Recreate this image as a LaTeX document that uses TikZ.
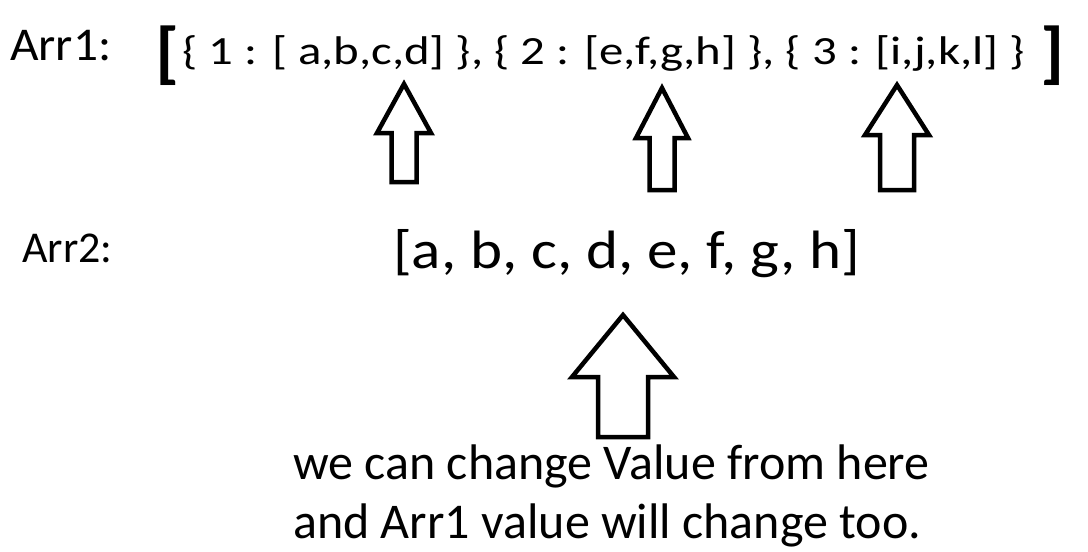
\documentclass[tikz,border=0pt]{standalone}
\usepackage{fontspec}
\setmainfont{Carlito}
\usepackage{tikz}

\tikzset{
  txt/.style={inner sep=0pt, anchor=base west},
  blockarrow/.style={draw=black, line width=4.5pt, line join=miter, fill=white}
}

\begin{document}
\begin{tikzpicture}[x=1pt,y=-1pt]
\useasboundingbox (0,0) rectangle (1088,552);
% first line
\node[txt] (arr1) at (10,60){\fontsize{47}{50}\selectfont\scalebox{1.05}[1]{Arr1:}};
\node[txt] (lb) at (155,75){\fontsize{68}{72}\selectfont\bfseries\scalebox{1.1}[1]{[}};
\node[txt] (list1) at (182,64){\fontsize{40}{44}\selectfont\scalebox{1.22}[1]{\{ 1 : [ a,b,c,d] \}, \{ 2 : [e,f,g,h] \}, \{ 3 : [i,j,k,l] \}}};
\node[txt] (rb) at (1040,75){\fontsize{68}{72}\selectfont\bfseries\scalebox{1.1}[1]{]}};
% second line
\node[txt] (arr2) at (22,262){\fontsize{44}{48}\selectfont Arr2:};
\node[txt] (list2) at (393,268){\fontsize{54}{58}\selectfont\scalebox{1.13}[1]{[a, b, c, d, e, f, g, h]}};
% note
\node[txt] (note1) at (293,479){\fontsize{50}{52}\selectfont we can change Value from here};
\node[txt] (note2) at (293,538){\fontsize{50}{52}\selectfont and Arr1 value will change too.};
% arrows
\coordinate (t1) at (404,84);
\coordinate (t2) at (662,88);
\coordinate (t3) at (897,85);
\coordinate (t4) at (623,315);
\draw[blockarrow] (t1) -- (431,133) -- (416.5,133) -- (416.5,182) -- (391.5,182) -- (391.5,133) -- (377,133) -- cycle;
\draw[blockarrow] (t2) -- (688,138) -- (674.5,138) -- (674.5,190) -- (649.5,190) -- (649.5,138) -- (636,138) -- cycle;
\draw[blockarrow] (t3) -- (929,135) -- (914,135) -- (914,190) -- (880,190) -- (880,135) -- (865,135) -- cycle;
\draw[blockarrow] (t4) -- (674,377) -- (648,377) -- (648,437) -- (598,437) -- (598,377) -- (572,377) -- cycle;
\end{tikzpicture}
\end{document}
